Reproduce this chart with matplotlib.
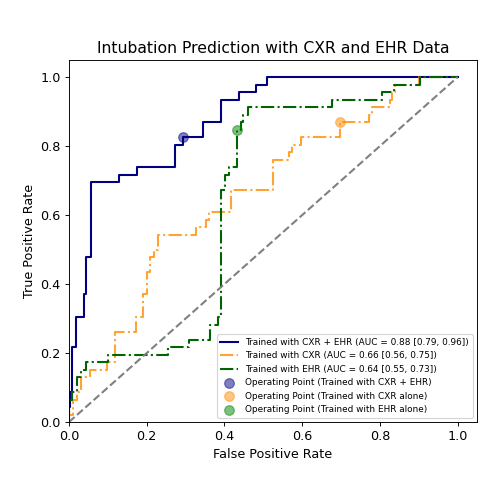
import matplotlib
matplotlib.use('Agg')
import matplotlib.pyplot as plt

# ROC curve of the combined CXR + EHR model
fpr_both = [0.0, 0.0, 0.003, 0.003, 0.009, 0.009, 0.018, 0.018, 0.038, 0.038, 0.045, 0.045,
            0.056, 0.056, 0.129, 0.129, 0.175, 0.175, 0.273, 0.273, 0.293, 0.293, 0.346, 0.346,
            0.391, 0.391, 0.437, 0.437, 0.481, 0.481, 0.509, 0.509, 1.0]
tpr_both = [0.0, 0.043, 0.043, 0.087, 0.087, 0.217, 0.217, 0.304, 0.304, 0.370, 0.370, 0.478,
            0.478, 0.696, 0.696, 0.717, 0.717, 0.739, 0.739, 0.804, 0.804, 0.826, 0.826, 0.870,
            0.870, 0.935, 0.935, 0.957, 0.957, 0.978, 0.978, 1.0, 1.0]

# ROC curve of the CXR-only model
fpr_cxr = [0.0, 0.0, 0.01, 0.01, 0.02, 0.02, 0.03, 0.03, 0.055, 0.055, 0.097, 0.097, 0.118,
           0.118, 0.173, 0.173, 0.191, 0.191, 0.201, 0.201, 0.208, 0.208, 0.218, 0.218, 0.229,
           0.229, 0.327, 0.327, 0.353, 0.353, 0.36, 0.36, 0.417, 0.417, 0.526, 0.526, 0.567,
           0.567, 0.575, 0.575, 0.597, 0.597, 0.697, 0.697, 0.772, 0.772, 0.78, 0.78, 0.825,
           0.825, 0.832, 0.832, 0.84, 0.84, 0.9, 0.9, 1.0]
tpr_cxr = [0.0, 0.022, 0.022, 0.065, 0.065, 0.087, 0.087, 0.13, 0.13, 0.152, 0.152, 0.174,
           0.174, 0.261, 0.261, 0.304, 0.304, 0.37, 0.37, 0.435, 0.435, 0.478, 0.478, 0.5, 0.5,
           0.543, 0.543, 0.565, 0.565, 0.587, 0.587, 0.609, 0.609, 0.674, 0.674, 0.761, 0.761,
           0.783, 0.783, 0.804, 0.804, 0.826, 0.826, 0.87, 0.87, 0.891, 0.891, 0.913, 0.913,
           0.935, 0.935, 0.957, 0.957, 0.978, 0.978, 1.0, 1.0]

# ROC curve of the EHR-only model
fpr_ehr = [0.0, 0.0, 0.009, 0.009, 0.02, 0.02, 0.03, 0.03, 0.045, 0.045, 0.101, 0.101, 0.255,
           0.255, 0.31, 0.31, 0.362, 0.362, 0.383, 0.383, 0.391, 0.391, 0.401, 0.401, 0.412,
           0.412, 0.432, 0.432, 0.443, 0.443, 0.448, 0.448, 0.462, 0.462, 0.678, 0.678, 0.806,
           0.806, 0.836, 0.836, 0.904, 0.904, 1.0]
tpr_ehr = [0.0, 0.065, 0.065, 0.087, 0.087, 0.13, 0.13, 0.152, 0.152, 0.174, 0.174, 0.196,
           0.196, 0.217, 0.217, 0.239, 0.239, 0.283, 0.283, 0.304, 0.304, 0.674, 0.674, 0.717,
           0.717, 0.739, 0.739, 0.848, 0.848, 0.87, 0.87, 0.891, 0.891, 0.913, 0.913, 0.935,
           0.935, 0.957, 0.957, 0.978, 0.978, 1.0, 1.0]

# operating points (fpr, tpr)
op_both = (0.293, 0.826)
op_cxr = (0.697, 0.870)
op_ehr = (0.432, 0.848)

labels = ['Trained with CXR + EHR (AUC = 0.88 [0.79, 0.96])',
          'Trained with CXR (AUC = 0.66 [0.56, 0.75])',
          'Trained with EHR (AUC = 0.64 [0.55, 0.73])']

fig = plt.figure(figsize=(6, 6), dpi=499 / 6)
ax = fig.add_axes([0.138, 0.154, 0.818, 0.726])

ax.plot(fpr_both, tpr_both, color='navy', lw=1.8, label=labels[0])
ax.plot(fpr_cxr, tpr_cxr, color='darkorange', lw=1.8, linestyle='-.', alpha=0.8, label=labels[1])
ax.plot(fpr_ehr, tpr_ehr, color='darkgreen', lw=1.8, linestyle='-.', label=labels[2])
ax.plot([0, 1], [0, 1], color='gray', lw=1.8, linestyle='--')

ax.scatter(*op_both, color='navy', s=70, alpha=0.5, zorder=3,
           label='Operating Point (Trained with CXR + EHR)')
ax.scatter(*op_cxr, color='darkorange', s=70, alpha=0.5, zorder=3,
           label='Operating Point (Trained with CXR alone)')
ax.scatter(*op_ehr, color='green', s=70, alpha=0.5, zorder=3,
           label='Operating Point (Trained with EHR alone)')

ax.set_xlim([0.0, 1.05])
ax.set_ylim([0.0, 1.05])
ax.set_xlabel('False Positive Rate', fontsize=11)
ax.set_ylabel('True Positive Rate', fontsize=11)
ax.set_title('Intubation Prediction with CXR and EHR Data', fontsize=13.5)
ax.tick_params(labelsize=11)
ax.legend(loc='lower right', fontsize=7.7)

plt.savefig('out.png', dpi=499 / 6)
